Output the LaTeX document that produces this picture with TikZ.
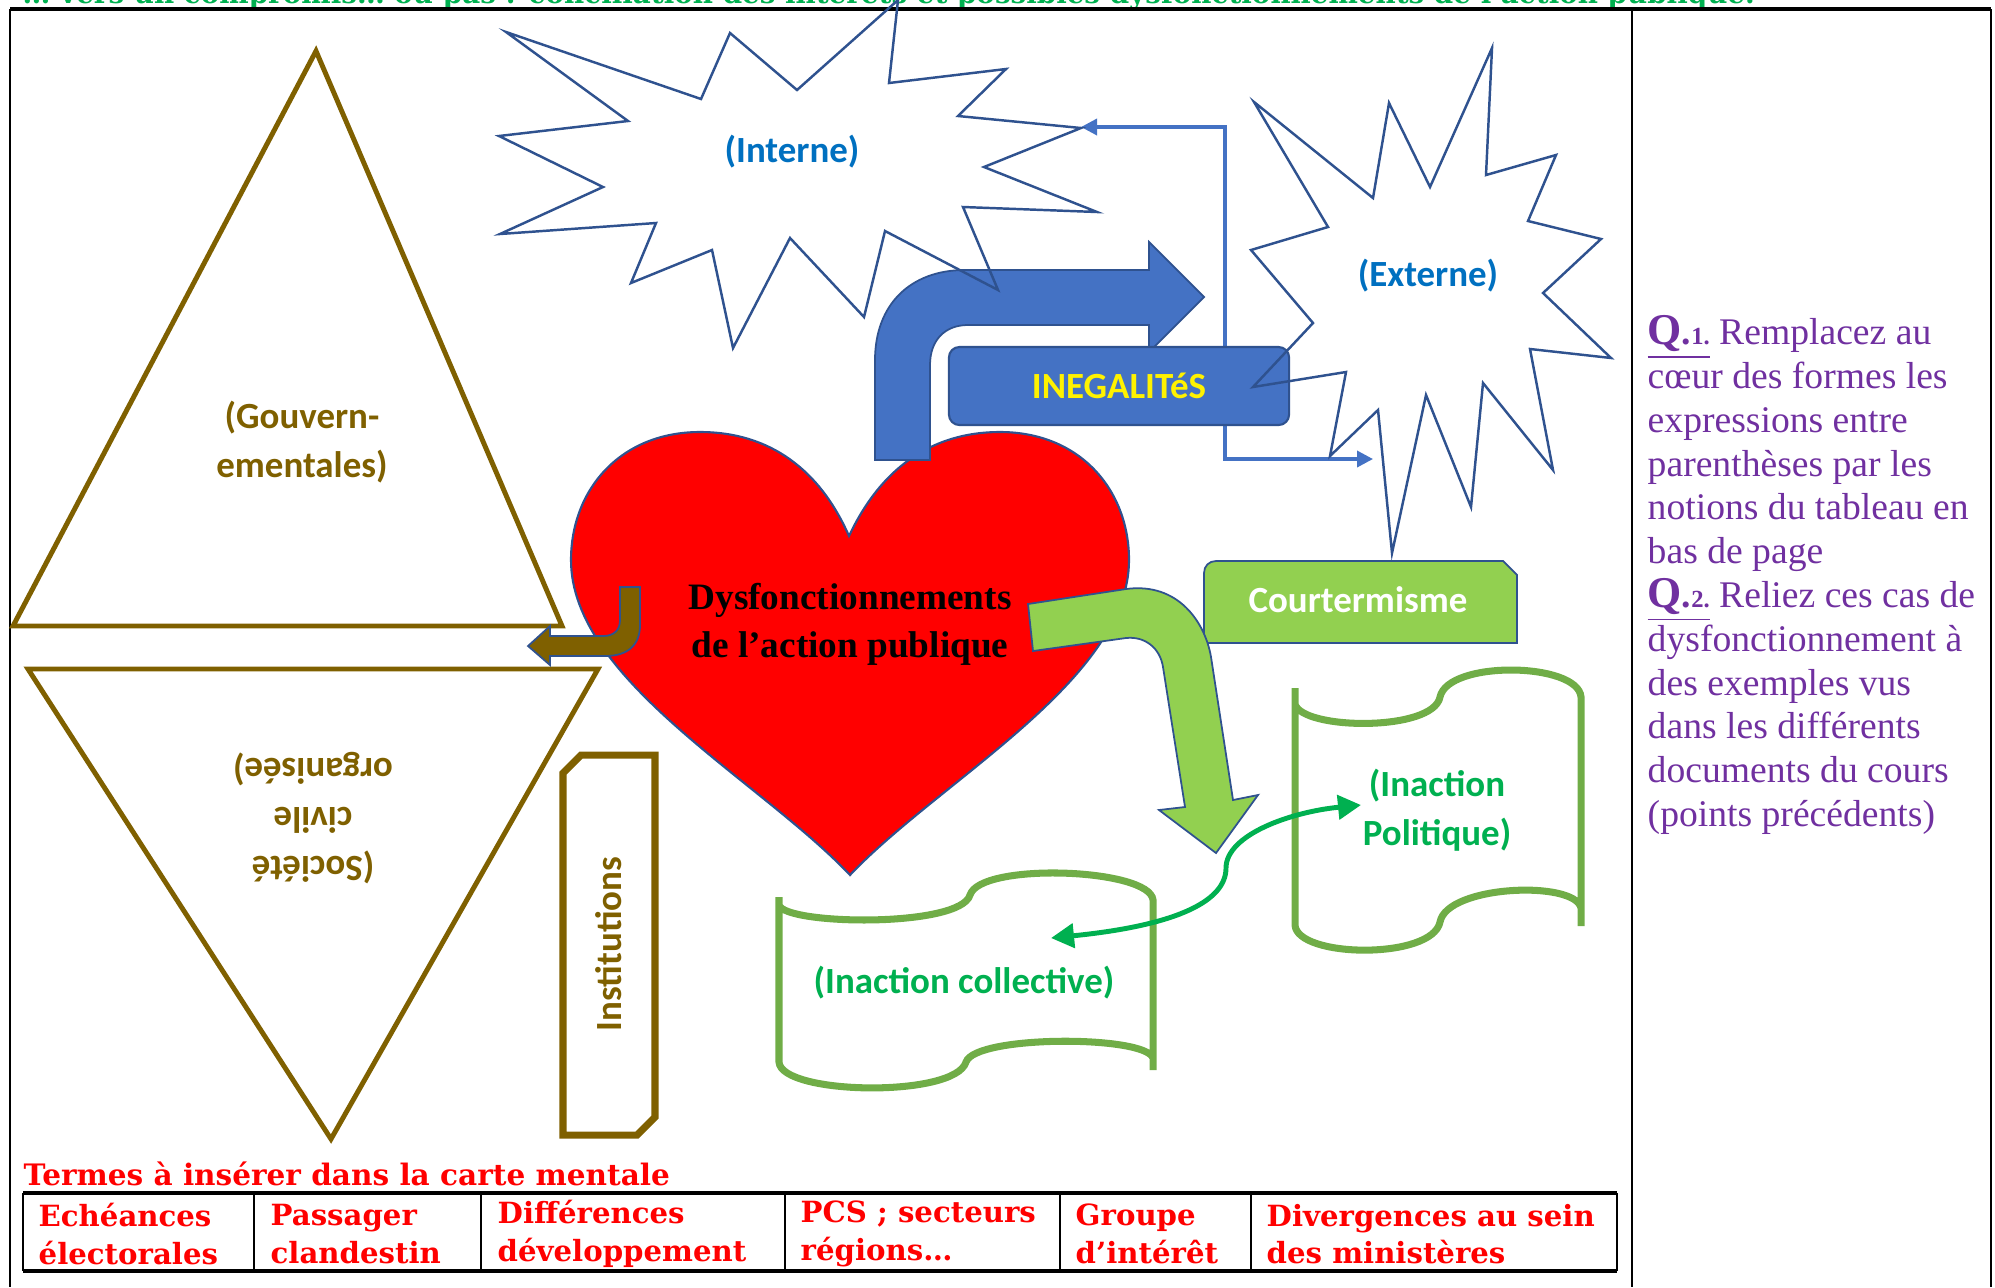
\documentclass[tikz,border=0pt]{standalone}
\usepackage{fontspec}
\setmainfont{Liberation Serif}
\newfontfamily\calibri{Carlito}
\newfontfamily\slab{DejaVu Serif}
\usetikzlibrary{arrows.meta}
\definecolor{shapeblue}{HTML}{4472C4}
\definecolor{edgeblue}{HTML}{2F528F}
\definecolor{olive}{HTML}{7F6000}
\definecolor{lightgreen}{HTML}{92D050}
\definecolor{scrollgreen}{HTML}{70AD47}
\definecolor{textgreen}{HTML}{00B050}
\definecolor{starblue}{HTML}{0070C0}
\definecolor{qpurple}{HTML}{7030A0}
\tikzset{
    %Define style for the frame
    cadre/.style={draw=black,line width=0.6pt},
    %Define style for the labels
    etiq/.style={
           font=\calibri\bfseries\fontsize{10.5}{14}\selectfont,
           align=center,
           inner sep=0pt},
    %Define style for the explosions
    etoile/.style={draw=edgeblue,line width=0.7pt},
    % Define style for block arrows
    fleche/.style={draw=edgeblue,line width=0.5pt},
    pyramide/.style={draw=olive,line width=1.4pt},
    parchemin/.style={draw=scrollgreen,line width=2pt},
    % Define arrow styles
    lien/.style={
           draw=shapeblue,
           line width=1pt,
           -{Triangle[length=1.6mm,width=1.6mm]}},
    allerretour/.style={
           draw=textgreen,
           line width=1.4pt,
           {Triangle[length=2.3mm,width=2.4mm]}-{Triangle[length=2.3mm,width=2.4mm]}},
    % Define style for the terms
    terme/.style={
           font=\slab\bfseries\fontsize{8.3}{10.7}\selectfont,
           text=red,
           align=left,
           anchor=west,
           inner sep=0pt}
}
\begin{document}
\begin{tikzpicture}[x=0.01cm,y=-0.01cm]
  \useasboundingbox (0,0) rectangle (1995,1287);
  \clip (0,0) rectangle (1995,1287);
  \node[font=\slab\bfseries\fontsize{7.9}{9}\selectfont,text=textgreen,anchor=base west,inner sep=0pt] (titre) at (22,3)
    {… vers un compromis… ou pas : conciliation des intérêts et possibles dysfonctionnements de l’action publique.};
  % frame
  \draw[line width=1pt] (10,9) -- (1991,9);
  \draw[cadre] (10,9) -- (10,1287);
  \draw[cadre] (1632,9) -- (1632,1287);
  \draw[cadre] (1991,9) -- (1991,1287);
  % triangles
  \draw[pyramide] (316,51) -- (562,626) -- (13,626) -- cycle;
  \node[etiq,text=olive] (gouv) at (302,442) {(Gouvern-\\ementales)};
  \draw[pyramide] (28,669) -- (598,669) -- (331,1139) -- cycle;
  \node[etiq,text=olive,rotate=180] (societe) at (313,818) {(Société\\civile\\organisée)};
  \draw[draw=olive,line width=2pt] (563,773) -- (581,755) -- (655,755) -- (655,1117) -- (637,1135) -- (563,1135) -- cycle;
  \node[etiq,text=olive,rotate=90] (instit) at (609,944) {Institutions};
  % heart
  \draw[fill=red,draw=edgeblue,line width=0.6pt] (849,536)
    .. controls (820,470) and (770,432) .. (700,432)
    .. controls (620,432) and (571,490) .. (571,560)
    .. controls (571,680) and (760,780) .. (850,875)
    .. controls (940,780) and (1129,680) .. (1129,560)
    .. controls (1129,490) and (1080,432) .. (1000,432)
    .. controls (930,432) and (880,470) .. (849,536) -- cycle;
  \node[font=\bfseries\fontsize{10.6}{13.7}\selectfont,align=center,inner sep=0pt] (coeur) at (850,624)
    {Dysfonctionnements\\de l’action publique};
  % block arrows
  \draw[fleche,fill=olive] (620,587) -- (640,587) -- (640,625) .. controls (640,645) and (628,656) .. (605,656)
    -- (550,656) -- (550,665) -- (528,646) -- (550,626) -- (550,636) -- (603,636)
    .. controls (614,636) and (620,630) .. (620,620) -- cycle;
  \draw[fleche,fill=shapeblue] (875,460) -- (875,360) .. controls (875,305) and (910,270) .. (965,270)
    -- (1149,270) -- (1149,242) -- (1204,297) -- (1149,352) -- (1149,325) -- (968,325)
    .. controls (945,325) and (930,340) .. (930,365) -- (930,460) -- cycle;
  \coordinate (pivot) at (1225,386);
  \coordinate (versInterne) at (1081,127);
  \coordinate (versExterne) at (1373,459);
  \draw[lien] (pivot) |- (versInterne);
  \draw[lien] (pivot) |- (versExterne);
  \node[etiq,fill=shapeblue,draw=edgeblue,line width=0.6pt,rounded corners=3pt,
        minimum width=3.4cm,minimum height=0.78cm,text=yellow] (ineg) at (1119,386) {INEGALITéS};
  \draw[fleche,fill=lightgreen] (1204,643) -- (1204,573) .. controls (1204,566) and (1209,561) .. (1216,561)
    -- (1503,561) -- (1517,575) -- (1517,643) -- cycle;
  \node[etiq,text=white] (court) at (1358,600) {Courtermisme};
  \draw[fleche,fill=lightgreen] (1028,604) -- (1126,589) .. controls (1178,582) and (1205,622) .. (1211,657)
    -- (1233,800) -- (1258,795) -- (1216,853) -- (1159,810) -- (1185,807) -- (1163,667)
    .. controls (1160,648) and (1145,636) .. (1126,638) -- (1033,651) -- cycle;
  % scrolls
  \draw[parchemin] (1295,688) -- (1295,925) .. controls (1297,958) and (1432,960) .. (1440,922)
    .. controls (1447,885) and (1575,880) .. (1581,908)
    (1581,926) -- (1581,697) .. controls (1578,662) and (1448,660) .. (1440,697)
    .. controls (1433,732) and (1302,730) .. (1295,704);
  \node[etiq,text=textgreen] (politique) at (1437,810) {(Inaction\\Politique)};
  \draw[parchemin] (779,897) -- (779,1062) .. controls (781,1095) and (955,1098) .. (966,1062)
    .. controls (975,1035) and (1145,1035) .. (1153,1058)
    (1153,1070) -- (1153,900) .. controls (1150,868) and (980,862) .. (970,895)
    .. controls (960,928) and (785,925) .. (779,905);
  \node[etiq,text=textgreen] (collectif) at (964,983) {(Inaction collective)};
  \coordinate (bordCollectif) at (1051,938);
  \coordinate (bordPolitique) at (1361,805);
  \draw[allerretour] (bordCollectif) .. controls (1180,925) and (1226,900) .. (1226,868)
    .. controls (1226,835) and (1290,812) .. (bordPolitique);
  % explosions
  \draw[etoile] (506,32) -- (701,99) -- (730,33) -- (797,90) -- (898,0) -- (889,83) -- (1006,69) -- (958,116)
    -- (1081,128) -- (984,167) -- (1097,212) -- (963,207) -- (998,290) -- (885,231) -- (864,317) -- (790,238)
    -- (733,348) -- (712,250) -- (631,283) -- (656,223) -- (500,234) -- (603,187) -- (499,136) -- (628,121) -- cycle;
  \node[etiq,text=starblue] (interne) at (792,152) {(Interne)};
  \draw[etoile] (1254,102) -- (1373,198) -- (1389,103) -- (1430,187) -- (1492,48) -- (1486,175) -- (1556,155)
    -- (1528,221) -- (1601,239) -- (1543,293) -- (1611,358) -- (1530,349) -- (1553,470) -- (1483,383)
    -- (1471,507) -- (1426,395) -- (1392,553) -- (1378,410) -- (1330,456) -- (1346,372) -- (1253,387)
    -- (1313,323) -- (1251,250) -- (1328,227) -- cycle;
  \node[etiq,text=starblue] (externe) at (1428,276) {(Externe)};
  % questions
  \node[anchor=north west,align=left,text=qpurple,font=\fontsize{10.7}{12.45}\selectfont,inner sep=0pt] (consignes) at (1647,315)
    {\textbf{\underline{{\fontsize{12.5}{12.5}\selectfont Q}.{\scriptsize 1.}}} Remplacez au\\
     cœur des formes les\\expressions entre\\parenthèses par les\\notions du tableau en\\bas de page\\
     \textbf{\underline{{\fontsize{12.5}{12.5}\selectfont Q}.{\scriptsize 2.}}} Reliez ces cas de\\
     dysfonctionnement à\\des exemples vus\\dans les différents\\documents du cours\\(points précédents)};
  % terms
  \node[terme,font=\slab\bfseries\fontsize{8.4}{10}\selectfont] (termes) at (23,1174) {Termes à insérer dans la carte mentale};
  \draw[line width=1pt] (23,1193) -- (1617,1193);
  \draw[line width=1pt] (23,1271) -- (1617,1271);
  \foreach \x in {23,254,481,785,1060,1251,1617}
    \draw[line width=0.5pt] (\x,1193) -- (\x,1271);
  \foreach \x/\txt [count=\i] in {38/Echéances\\électorales, 270/Passager\\clandestin,
      497/Différences\\développement, 800/PCS ; secteurs\\régions…,
      1075/Groupe\\d’intérêt, 1266/Divergences au sein\\des ministères}
    \node[terme] (terme\i) at (\x,1234) {\txt};
\end{tikzpicture}
\end{document}
